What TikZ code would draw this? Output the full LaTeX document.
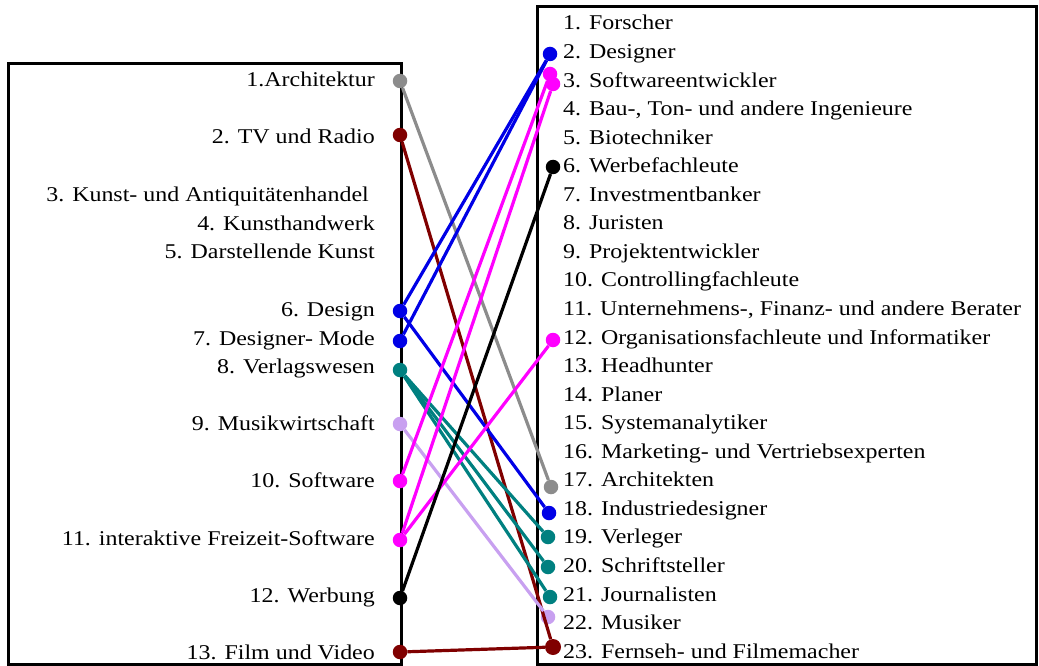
\documentclass[tikz,border=0pt]{standalone}
\usepackage{fontspec}
\setmainfont{Liberation Serif}[FakeStretch=1.14]
\definecolor{archgray}{RGB}{140,140,140}
\definecolor{tvred}{RGB}{128,0,0}
\definecolor{desblue}{RGB}{0,0,230}
\definecolor{verlteal}{RGB}{0,128,128}
\definecolor{muslav}{RGB}{200,160,240}
\definecolor{softmag}{RGB}{255,0,255}
\tikzset{
  frame/.style={draw=black, line width=3pt},
  dot/.style={circle, fill=#1, draw=none, inner sep=0pt, minimum size=14.5pt},
  conn/.style={line width=3.2pt},
  lefttext/.style={anchor=base east, inner sep=0pt, font=\fontsize{21}{25}\selectfont},
  righttext/.style={anchor=base west, inner sep=0pt, font=\fontsize{21}{25}\selectfont},
}
\begin{document}
\begin{tikzpicture}[x=1pt, y=-1pt]
\useasboundingbox (0,0) rectangle (1039,666);
% two frames
\draw[frame] (8,64) rectangle (401,664);
\draw[frame] (537,7) rectangle (1036,664);

% left list: sectors
\node[lefttext] (t1)  at (375,87)  {1.Architektur};
\node[lefttext] (t2)  at (375,143) {2. TV und Radio};
\node[lefttext] (t3)  at (369,201) {3. Kunst- und Antiquitätenhandel};
\node[lefttext] (t4)  at (375,230) {4. Kunsthandwerk};
\node[lefttext] (t5)  at (375,258) {5. Darstellende Kunst};
\node[lefttext] (t6)  at (375,316) {6. Design};
\node[lefttext] (t7)  at (375,345) {7. Designer- Mode};
\node[lefttext] (t8)  at (375,373) {8. Verlagswesen};
\node[lefttext] (t9)  at (375,430) {9. Musikwirtschaft};
\node[lefttext] (t10) at (375,487) {10. Software};
\node[lefttext] (t11) at (375,545) {11. interaktive Freizeit-Software};
\node[lefttext] (t12) at (375,602) {12. Werbung};
\node[lefttext] (t13) at (375,659) {13. Film und Video};

% right list: professions
\foreach \i/\txt in {1/{1. Forscher}, 2/{2. Designer}, 3/{3. Softwareentwickler},
  4/{4. Bau-, Ton- und andere Ingenieure}, 5/{5. Biotechniker}, 6/{6. Werbefachleute},
  7/{7. Investmentbanker}, 8/{8. Juristen}, 9/{9. Projektentwickler},
  10/{10. Controllingfachleute}, 11/{11. Unternehmens-, Finanz- und andere Berater},
  12/{12. Organisationsfachleute und Informatiker}, 13/{13. Headhunter},
  14/{14. Planer}, 15/{15. Systemanalytiker}, 16/{16. Marketing- und Vertriebsexperten},
  17/{17. Architekten}, 18/{18. Industriedesigner}, 19/{19. Verleger},
  20/{20. Schriftsteller}, 21/{21. Journalisten}, 22/{22. Musiker},
  23/{23. Fernseh- und Filmemacher}}
  \node[righttext] (r\i) at (563,{30+28.55*(\i-1)}) {\txt};

% dots on the left
\node[dot=archgray] (L1)  at (400,81)  {};
\node[dot=tvred]    (L2)  at (400,135) {};
\node[dot=desblue]  (L6)  at (400,311) {};
\node[dot=desblue]  (L7)  at (400,341) {};
\node[dot=verlteal] (L8)  at (400,370) {};
\node[dot=muslav]   (L9)  at (400,424) {};
\node[dot=softmag]  (L10) at (400,481) {};
\node[dot=softmag]  (L11) at (400,540) {};
\node[dot=black]    (L12) at (400,598) {};
\node[dot=tvred]    (L13) at (400,652) {};

% dots on the right
\node[dot=desblue]  (R2)  at (550,54)  {};
\node[dot=softmag]  (R3a) at (550,74)  {};
\node[dot=softmag]  (R3b) at (553,84)  {};
\node[dot=black]    (R6)  at (553,167) {};
\node[dot=softmag]  (R12) at (553,340) {};
\node[dot=archgray] (R17) at (551,487) {};
\node[dot=desblue]  (R18) at (549,513) {};
\node[dot=verlteal] (R19) at (548,537) {};
\node[dot=verlteal] (R20) at (548,567) {};
\node[dot=verlteal] (R21) at (550,597) {};
\node[dot=muslav]   (R22) at (548,617) {};
\node[dot=tvred, minimum size=16pt] (R23) at (553,647) {};

% connectors
\draw[conn, archgray] (L1) -- (R17);
\draw[conn, tvred] (L2) -- (R23);
\draw[conn, desblue] (L6) -- (R2);
\draw[conn, desblue] (L6) -- (R18);
\draw[conn, desblue] (L7) -- (R2);
\draw[conn, verlteal] (L8) -- (R19);
\draw[conn, verlteal] (L8) -- (R20);
\draw[conn, verlteal] (L8) -- (R21);
\draw[conn, muslav] (L9) -- (R22);
\draw[conn, softmag] (L10) -- (R3a);
\draw[conn, softmag] (L11) -- (R3b);
\draw[conn, softmag] (L11) -- (R12);
\draw[conn, black] (L12) -- (R6);
\draw[conn, tvred] (L13) -- (R23);
\end{tikzpicture}
\end{document}
